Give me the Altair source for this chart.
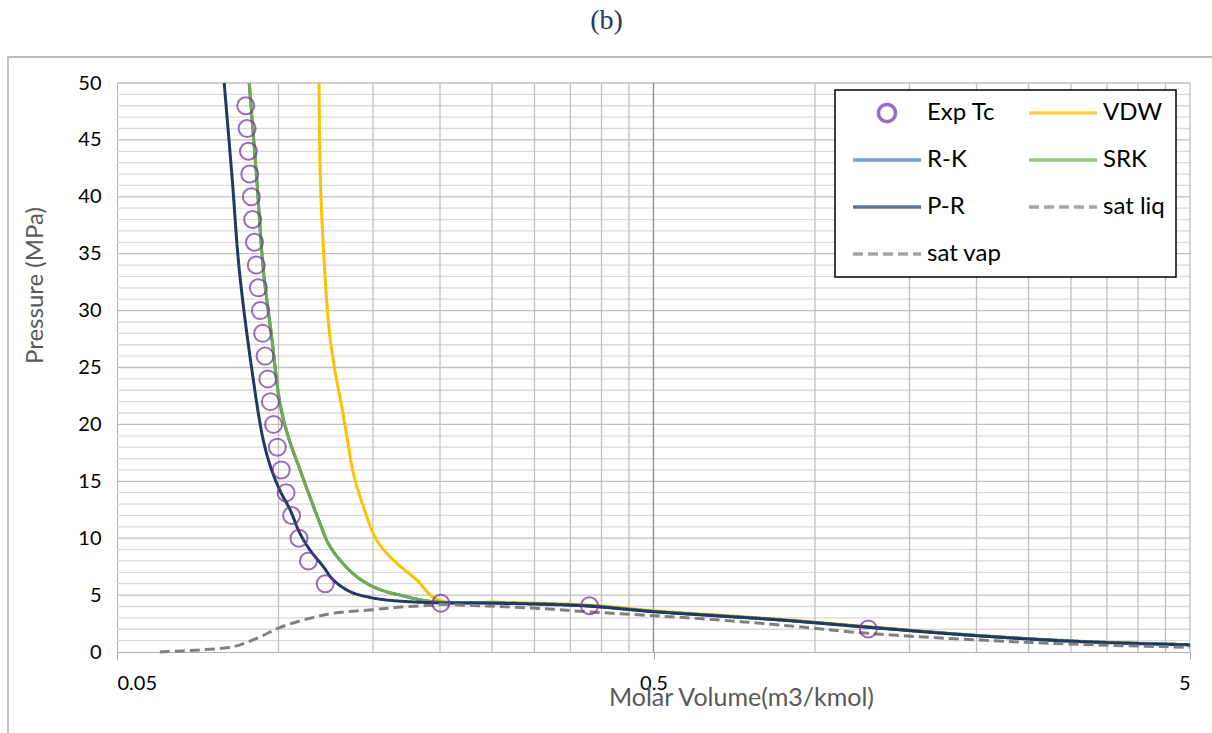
import altair as alt
import pandas as pd

# ---------------- data ----------------
# legend order (Vega fills the two legend columns top-to-bottom)
series_names = ["Exp Tc", "R-K", "P-R", "sat vap", "VDW", "SRK", "sat liq"]
series_colors = ["#7030a0", "#4472c4", "#203864", "#808080", "#ffc000", "#70ad47", "#808080"]
series_dashes = [[1, 0], [1, 0], [1, 0], [10, 5], [1, 0], [1, 0], [10, 5]]
series_shapes = ["circle", "M-4,0H4", "M-4,0H4", "M-4,0H4", "M-4,0H4", "M-4,0H4", "M-4,0H4"]

exp_v = [0.0869, 0.0874, 0.0879, 0.0884, 0.0890, 0.0895, 0.0902, 0.0909, 0.0917, 0.0925,
         0.0934, 0.0944, 0.0955, 0.0966, 0.0979, 0.0995, 0.1012, 0.1033, 0.1058, 0.1092,
         0.1137, 0.1222, 0.2007, 0.380, 1.257]
exp_p = [48, 46, 44, 42, 40, 38, 36, 34, 32, 30, 28, 26, 24, 22, 20, 18, 16, 14, 12, 10,
         8, 6, 4.28, 4.07, 2.02]

vdw_v = [0.1190, 0.1197, 0.1217, 0.1245, 0.1282, 0.1308, 0.1348, 0.1379, 0.1439, 0.1524,
         0.1637, 0.1810, 0.1975, 0.2587, 0.3754, 0.4996, 0.665, 0.861, 1.257,
         2.03, 3.12, 5.0]
vdw_p = [50, 41.5, 34.2, 28, 24, 21.9, 18.3, 15.7, 12.8, 9.84,
         8.08, 6.33, 4.62, 4.38, 4.14, 3.63, 3.23, 2.88, 2.23,
         1.45, 0.95, 0.65]

srk_v = [0.0882, 0.0911, 0.0937, 0.0971, 0.1006, 0.1043, 0.1097, 0.1145, 0.1195, 0.1238,
         0.1302, 0.1399, 0.1524, 0.1685, 0.1944, 0.2587, 0.3754, 0.4996, 0.665, 0.861,
         1.257, 2.03, 3.12, 5.0]
srk_p = [50, 41.5, 33.6, 27.7, 21.9, 18.9, 16.0, 13.6, 11.3, 9.55,
         8.08, 6.62, 5.6, 5.0, 4.42, 4.31, 4.07, 3.57, 3.18, 2.83,
         2.19, 1.43, 0.93, 0.64]

rk_v = [0.0882, 0.0911, 0.0937, 0.0971, 0.1006, 0.1043, 0.1097, 0.1145, 0.1195, 0.1238,
        0.1302, 0.1399, 0.1524, 0.1685, 0.1944, 0.2587, 0.3754, 0.4996, 0.665, 0.861,
        1.257, 2.03, 3.12, 5.0]
rk_p = [50, 41.5, 33.6, 27.7, 21.9, 18.9, 16.0, 13.6, 11.3, 9.55,
        8.08, 6.62, 5.6, 5.0, 4.42, 4.31, 4.07, 3.57, 3.18, 2.83,
        2.19, 1.43, 0.93, 0.64]

pr_v = [0.0792, 0.0820, 0.0845, 0.0892, 0.0937, 0.0971, 0.1006, 0.1051, 0.1097, 0.1145,
        0.1212, 0.1265, 0.1360, 0.1460, 0.1591, 0.1941, 0.2587, 0.3754, 0.4996, 0.665,
        0.861, 1.257, 2.03, 3.12, 5.0]
pr_p = [50, 41.5, 33.6, 24.8, 18.6, 16.0, 14.2, 12.5, 10.4, 8.96,
        7.5, 6.33, 5.3, 4.86, 4.57, 4.33, 4.28, 4.04, 3.54, 3.16,
        2.81, 2.17, 1.41, 0.91, 0.62]

liq_v = [0.0601, 0.0714, 0.0824, 0.0911, 0.1006, 0.1129, 0.1265, 0.1502, 0.1685, 0.1944, 0.2]
liq_p = [0.0, 0.18, 0.47, 1.2, 2.15, 2.9, 3.4, 3.72, 3.95, 4.13, 4.2]

vap_v = [0.2, 0.2444, 0.3029, 0.3754, 0.4996, 0.665, 0.861, 1.257, 2.03, 3.12, 5.0]
vap_p = [4.2, 4.04, 3.84, 3.54, 3.19, 2.81, 2.37, 1.64, 1.05, 0.67, 0.41]

x_ticks = [0.05, 0.5, 5]
y_ticks = [0, 5, 10, 15, 20, 25, 30, 35, 40, 45, 50]
v_grid_minor = [0.1, 0.15, 0.2, 0.25, 0.3, 0.35, 0.4, 0.45,
                1, 1.5, 2, 2.5, 3, 3.5, 4, 4.5, 5]
v_grid_major = [0.5]
h_grid_minor = [1, 2, 3, 4, 6, 7, 8, 9, 11, 12, 13, 14, 16, 17, 18, 19, 21, 22, 23, 24,
                26, 27, 28, 29, 31, 32, 33, 34, 36, 37, 38, 39, 41, 42, 43, 44, 46, 47, 48, 49]
h_grid_major = [5, 10, 15, 20, 25, 30, 35, 40, 45, 50]

# ---------------- tables ----------------
line_series = [("VDW", vdw_v, vdw_p), ("R-K", rk_v, rk_p), ("SRK", srk_v, srk_p),
               ("P-R", pr_v, pr_p), ("sat liq", liq_v, liq_p), ("sat vap", vap_v, vap_p)]
rows = []
for name, vs, ps in line_series:
    for i, (v, p) in enumerate(zip(vs, ps)):
        rows.append({"series": name, "v": v, "P": p, "i": i})
lines_df = pd.DataFrame(rows)
exp_df = pd.DataFrame({"series": ["Exp Tc"] * len(exp_v), "v": exp_v, "P": exp_p})

FONT = "Lato"

x_scale = alt.Scale(type="log", domain=[0.05, 5], nice=False)
y_scale = alt.Scale(domain=[0, 50], nice=False, zero=False)

x_axis = alt.Axis(values=x_ticks, format=".2~f", grid=False, domainColor="#b0b0b0",
                  ticks=True, tickColor="#a0a0a0", tickSize=7, labelPadding=14,
                  labelFont=FONT, labelFontSize=20, labelColor="#000000",
                  title="Molar Volume(m3/kmol)", titleFont=FONT, titleFontSize=25,
                  titleFontWeight="normal", titleColor="#595959",
                  titleX=624, titleY=45, titleBaseline="middle", titleAlign="center")
y_axis = alt.Axis(values=y_ticks, grid=False, domainColor="#b0b0b0", ticks=False,
                  labelPadding=16, labelFont=FONT, labelFontSize=20, labelColor="#000000",
                  title="Pressure (MPa)", titleFont=FONT, titleFontSize=24,
                  titleFontWeight="normal", titleColor="#595959",
                  titleX=-82, titleY=202, titleAngle=270, titleBaseline="middle",
                  titleAlign="center")

X = alt.X("v:Q", scale=x_scale, axis=x_axis)
Y = alt.Y("P:Q", scale=y_scale, axis=y_axis)

legend = alt.Legend(title=None, orient="none", legendX=718, legendY=7, columns=2,
                    columnPadding=20, rowPadding=23, clipHeight=24, padding=11,
                    strokeColor="#000000", fillColor="#ffffff",
                    labelFont=FONT, labelFontSize=24, labelColor="#000000",
                    symbolSize=289, symbolStrokeWidth=3.5, symbolOffset=29, labelOffset=28)

color = alt.Color("series:N", scale=alt.Scale(domain=series_names, range=series_colors),
                  legend=legend)
dash = alt.StrokeDash("series:N", scale=alt.Scale(domain=series_names, range=series_dashes),
                      legend=legend)
shape = alt.Shape("series:N", scale=alt.Scale(domain=series_names, range=series_shapes),
                  legend=legend)

# ---------------- layers ----------------
frame = alt.Chart(alt.Data(values=[{"f": 1}])).mark_rect(
    filled=False, stroke="#a6a6a6", strokeWidth=1.3
).encode(x=alt.value(-109), x2=alt.value(1105), y=alt.value(-26), y2=alt.value(660))

grid_layers = [
    alt.Chart(pd.DataFrame({"P": h_grid_minor})).mark_rule(color="#d9d9d9", strokeWidth=1.3).encode(y=Y),
    alt.Chart(pd.DataFrame({"P": h_grid_major})).mark_rule(color="#bfbfbf", strokeWidth=1.3).encode(y=Y),
    alt.Chart(pd.DataFrame({"v": v_grid_minor})).mark_rule(color="#bfbfbf", strokeWidth=1.3).encode(x=X),
    alt.Chart(pd.DataFrame({"v": v_grid_major})).mark_rule(color="#8c8c8c", strokeWidth=1.3).encode(x=X),
]

curve_layers = []
for name, _, _ in line_series:
    curve_layers.append(
        alt.Chart(lines_df).transform_filter(alt.datum.series == name)
        .mark_line(strokeWidth=3, interpolate="catmull-rom")
        .encode(x=X, y=Y, color=color, strokeDash=dash, order="i:Q")
    )

points = alt.Chart(exp_df).mark_point(filled=False, size=289, strokeWidth=2).encode(
    x=X, y=Y, color=color, shape=shape
)

chart = alt.layer(frame, *grid_layers, *curve_layers, points).properties(
    width=1073, height=569,
    autosize=alt.AutoSizeParams(type="none"),
    padding={"left": 117, "top": 83, "right": 22, "bottom": 81},
    title=alt.TitleParams(text="(b)", font="Liberation Serif", fontSize=28,
                          fontWeight="normal", color="#203864", anchor="middle",
                          dx=-47, offset=21),
).configure_view(strokeWidth=0).configure_legend(strokeWidth=1.5)

chart.save("out.html", embed_options={"renderer": "svg", "actions": False})
